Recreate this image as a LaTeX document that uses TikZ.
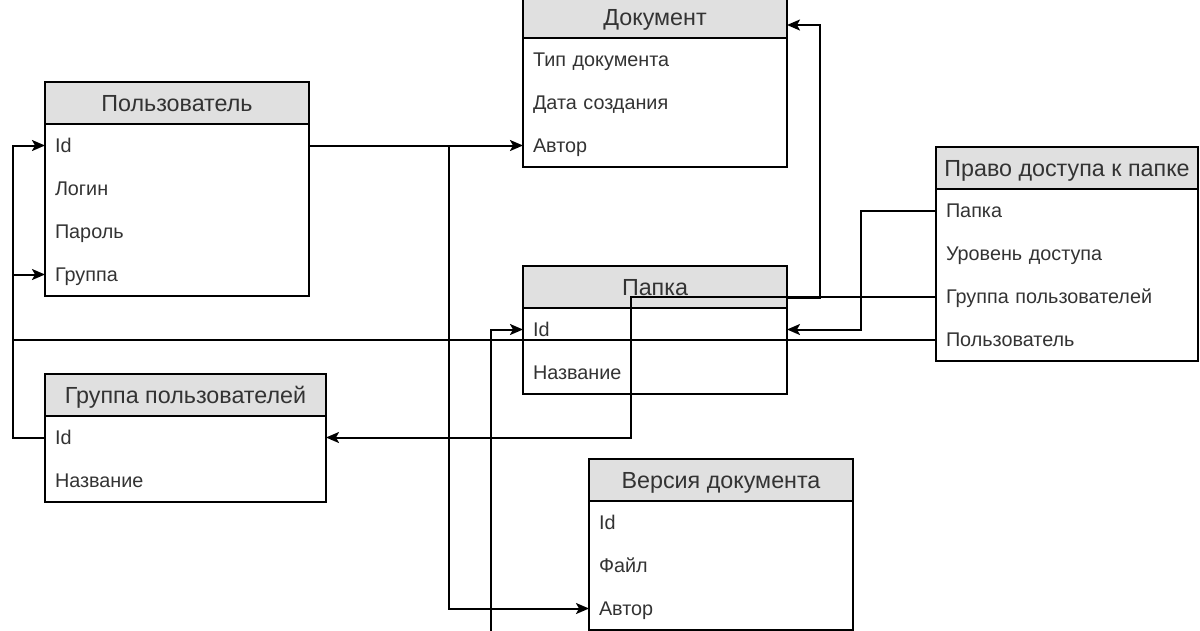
\documentclass[tikz,border=0pt]{standalone}
\usepackage{fontspec}
\setmainfont{Liberation Sans}
\usetikzlibrary{positioning,arrows.meta}

\definecolor{headgray}{HTML}{E0E0E0}
\definecolor{txtgray}{HTML}{333333}

\tikzset{
	tblhead/.style={draw, line width=2pt, fill=headgray, text=txtgray, inner sep=0pt, outer sep=0pt,
		minimum height=42pt, anchor=north west, text height=16.7pt, text depth=0pt,
		font=\fontsize{23.3}{27}\selectfont},
	tblrow/.style={inner xsep=10pt, inner ysep=0pt, outer sep=0pt, minimum height=43pt, align=left,
		text height=14.2pt, text depth=0pt, text=txtgray, font=\fontsize{19.8}{23}\selectfont},
	tblbody/.style={line width=2pt},
	link/.style={line width=2pt, -{Stealth[length=13pt,width=11pt,inset=3pt]}},
}

\begin{document}
\begin{tikzpicture}[x=1pt,y=-1pt]
	\useasboundingbox (0,0) rectangle (1200,630);
	\clip (0,0) rectangle (1200,630);

	% Документ
	\node[tblhead, minimum width=264pt] (doc) at (523,-4) {Документ};
	\node[tblrow, text width=244pt, below=0pt of doc] (docType) {Тип документа};
	\node[tblrow, text width=244pt, below=0pt of docType] (docDate) {Дата создания};
	\node[tblrow, text width=244pt, below=0pt of docDate] (docAuthor) {Автор};
	\draw[tblbody] (docType.north west) rectangle (docAuthor.south east);

	% Пользователь
	\node[tblhead, minimum width=264pt] (user) at (45,82) {Пользователь};
	\node[tblrow, text width=244pt, below=0pt of user] (userId) {Id};
	\node[tblrow, text width=244pt, below=0pt of userId] (userLogin) {Логин};
	\node[tblrow, text width=244pt, below=0pt of userLogin] (userPass) {Пароль};
	\node[tblrow, text width=244pt, below=0pt of userPass] (userGroup) {Группа};
	\draw[tblbody] (userId.north west) rectangle (userGroup.south east);

	% Право доступа к папке
	\node[tblhead, minimum width=262pt] (acc) at (936,147) {Право доступа к папке};
	\node[tblrow, text width=242pt, below=0pt of acc] (accFolder) {Папка};
	\node[tblrow, text width=242pt, below=0pt of accFolder] (accLevel) {Уровень доступа};
	\node[tblrow, text width=242pt, below=0pt of accLevel] (accGroup) {Группа пользователей};
	\node[tblrow, text width=242pt, below=0pt of accGroup] (accUser) {Пользователь};
	\draw[tblbody] (accFolder.north west) rectangle (accUser.south east);

	% Папка
	\node[tblhead, minimum width=264pt] (fold) at (523,266) {Папка};
	\node[tblrow, text width=244pt, below=0pt of fold] (foldId) {Id};
	\node[tblrow, text width=244pt, below=0pt of foldId] (foldName) {Название};
	\draw[tblbody] (foldId.north west) rectangle (foldName.south east);

	% Группа пользователей
	\node[tblhead, minimum width=281pt] (grp) at (45,374) {Группа пользователей};
	\node[tblrow, text width=261pt, below=0pt of grp] (grpId) {Id};
	\node[tblrow, text width=261pt, below=0pt of grpId] (grpName) {Название};
	\draw[tblbody] (grpId.north west) rectangle (grpName.south east);

	% Версия документа
	\node[tblhead, minimum width=264pt] (ver) at (589,459) {Версия документа};
	\node[tblrow, text width=244pt, below=0pt of ver] (verId) {Id};
	\node[tblrow, text width=244pt, below=0pt of verId] (verFile) {Файл};
	\node[tblrow, text width=244pt, below=0pt of verFile] (verAuthor) {Автор};
	\draw[tblbody] (verId.north west) rectangle (verAuthor.south east);

	% links
	\coordinate (leftbus) at (13,0);
	\coordinate (midbus) at (449,0);
	\coordinate (grpbus) at (631,0);
	\coordinate (docbus) at (820,0);
	\coordinate (foldbus) at (861,0);
	\coordinate (verdrop) at (491,640);

	\draw[link] (userId.east) -- (docAuthor.west);
	\draw[link] (userId.east -| midbus) |- (verAuthor.west);
	\draw[link] (accUser.west) -- (accUser.west -| leftbus) |- (userId.west);
	\draw[link] (grpId.west) -- (grpId.west -| leftbus) |- (userGroup.west);
	\draw[link] (accGroup.west) -- (accGroup.west -| grpbus) |- (grpId.east);
	\draw[link] (accFolder.west) -- (accFolder.west -| foldbus) |- (foldId.east);
	\draw[link] ([yshift=-11pt]fold.east) -- ([yshift=-11pt]fold.east -| docbus) |- ([yshift=-8pt]doc.east);
	\draw[link] (verdrop) |- (foldId.west);
\end{tikzpicture}
\end{document}
